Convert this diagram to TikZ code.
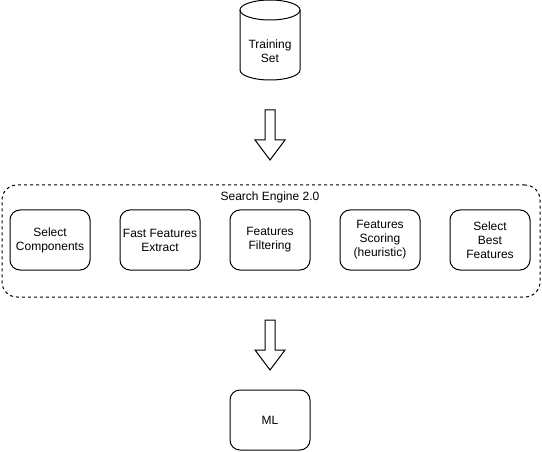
\documentclass[tikz,border=0pt]{standalone}
\usepackage{fontspec}
\setmainfont{Liberation Sans}

\begin{document}
\begin{tikzpicture}[x=1pt, y=1pt, font=\fontsize{12}{14}\selectfont,
    blocco/.style={draw=black, line width=1pt, rounded corners=10pt, minimum width=80pt,
      minimum height=60pt, inner sep=0pt, align=center},
    contenitore/.style={draw=black, line width=1pt, rounded corners=15pt,
      dash pattern=on 3pt off 3pt, minimum width=538pt, minimum height=112pt},
    freccia/.style={draw=black, line width=1pt, fill=white}]

  \useasboundingbox (0,0) rectangle (542,-452);

  % dataset
  \draw[line width=1pt] (240,-10) -- (240,-70)
    arc[start angle=180, end angle=360, x radius=30, y radius=10] -- (300,-10);
  \draw[line width=1pt] (270,-10) ellipse[x radius=30, y radius=10];
  \node[align=center] (training) at (270,-51) {Training\\Set};

  % frecce
  \foreach \y in {-110,-320}
    { \draw[freccia] (265,\y) -- ++(10,0) -- ++(0,-30) -- ++(10,0) -- ++(-15,-20)
        -- ++(-15,20) -- ++(10,0) -- cycle; }

  % search engine
  \node[contenitore] (engine) at (271,-241) {};
  \node (titolo) at (270,-197) {Search Engine 2.0};
  \foreach \x/\n/\t in {50/select/{Select\\Components},
                       160/fast/{Fast Features\\Extract},
                       270/filter/{Features\\Filtering},
                       380/scoring/{Features\\Scoring\\(heuristic)},
                       490/best/{Select\\Best\\Features}}
    { \node[blocco] (\n) at (\x,-240) {\t}; }

  \node[blocco] (ml) at (270,-420) {ML};
\end{tikzpicture}
\end{document}
